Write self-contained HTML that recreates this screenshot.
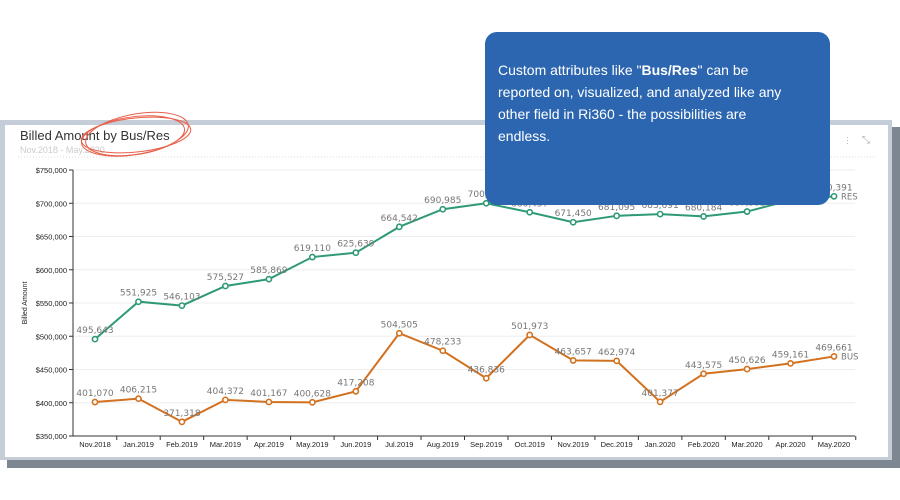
<!DOCTYPE html>
<html><head><meta charset="utf-8"><style>
body{margin:0;width:900px;height:500px;background:#fff;overflow:hidden;font-family:"Liberation Sans",sans-serif;position:relative}
.abs{position:absolute}
</style></head><body>
<div class="abs" style="left:7px;top:127px;width:893px;height:341px;background:#7d8791"></div>
<div class="abs" style="left:0;top:120px;width:892px;height:340px;background:#c5ced8"></div>
<div class="abs" style="left:5px;top:125px;width:883px;height:332px;background:#fff"></div>
<div class="abs" style="left:20px;top:128px;font-size:13px;color:#333">Billed Amount by Bus/Res</div>
<div class="abs" style="left:20px;top:145px;font-size:9px;color:#ccc">Nov.2018 - May.2020</div>
<div class="abs" style="left:846px;top:136px;font-size:9px;color:#aaa;line-height:3px">·<br>·<br>·</div>
<div class="abs" style="left:862px;top:135px;font-size:10px;color:#aaa">⤡</div>
<svg class="abs" style="left:0;top:0" width="900" height="500">
<line x1="18" y1="157" x2="875" y2="157" stroke="#ddd" stroke-dasharray="1,2"/>
<g id="grid"></g><g id="axes"></g><g id="series"></g>
<text transform="translate(27,303) rotate(-90)" text-anchor="middle" font-size="7" fill="#222">Billed Amount</text>
<g fill="none" stroke="#e8604a" stroke-width="1">
<ellipse cx="133" cy="136" rx="52" ry="19" transform="rotate(-8 133 136)"/>
<ellipse cx="136" cy="135" rx="55" ry="17" transform="rotate(-6 136 135)"/>
<ellipse cx="137" cy="134" rx="52" ry="20" transform="rotate(-10 137 134)"/>
</g>
</svg>
<div class="abs" style="left:485px;top:32px;width:345px;height:173px;background:#2d66b0;border-radius:12px"></div>
<div class="abs" style="left:498px;top:59px;width:300px;font-size:14px;line-height:22px;color:#fff">Custom attributes like "<b>Bus/Res</b>" can be reported on, visualized, and analyzed like any other field in Ri360 - the possibilities are endless.</div>
<script>
const categories=["Nov.2018","Jan.2019","Feb.2019","Mar.2019","Apr.2019","May.2019","Jun.2019","Jul.2019","Aug.2019","Sep.2019","Oct.2019","Nov.2019","Dec.2019","Jan.2020","Feb.2020","Mar.2020","Apr.2020","May.2020"];
const resValues=[495643,551925,546103,575527,585869,619110,625639,664542,690985,700006,686457,671450,681095,683691,680184,687532,704574,710391];
const busValues=[401070,406215,371318,404372,401167,400628,417208,504505,478233,436836,501973,463657,462974,401377,443575,450626,459161,469661];
const yTicks=[350000,400000,450000,500000,550000,600000,650000,700000,750000];
const NS="http://www.w3.org/2000/svg";
const x0=95,x1=834,yb=436,yt=170,ymin=350000,ymax=750000;
const xs=i=>x0+i*(x1-x0)/(categories.length-1);
const ys=v=>yb-(v-ymin)/(ymax-ymin)*(yb-yt);
function mk(t,a,p){const e=document.createElementNS(NS,t);for(const k in a)e.setAttribute(k,a[k]);p.appendChild(e);return e;}
const grid=document.getElementById('grid'),axes=document.getElementById('axes'),ser=document.getElementById('series');
yTicks.forEach(v=>{
 const g=mk('line',{x1:73,x2:855,y1:ys(v),y2:ys(v),stroke:'#eee'},grid);
 
 
 mk('line',{x1:69,x2:73,y1:ys(v),y2:ys(v),stroke:'#333'},axes);
 const t=mk('text',{x:67,y:ys(v)+3,'text-anchor':'end','font-size':7.5,fill:'#222'},axes);
 t.textContent='$'+v.toLocaleString('en-US');
 
 
});
mk('line',{x1:73,x2:73,y1:yt,y2:yb,stroke:'#333','stroke-width':1},axes);
mk('line',{x1:73,x2:855,y1:yb,y2:yb,stroke:'#333','stroke-width':1},axes);
const step=(x1-x0)/(categories.length-1);
categories.forEach((c,i)=>{
 mk('line',{x1:xs(i)+step/2,x2:xs(i)+step/2,y1:yb,y2:yb+4,stroke:'#333'},axes);
 const t=mk('text',{x:xs(i),y:yb+11,'text-anchor':'middle','font-size':7.5,fill:'#222'},axes);
 t.textContent=c;
 
 
});
function draw(vals,col,name,label){
 const p=mk('polyline',{points:vals.map((v,i)=>xs(i)+','+ys(v)).join(' '),fill:'none',stroke:col,'stroke-width':2},ser);
 
 
 vals.forEach((v,i)=>{
  const c=mk('circle',{cx:xs(i),cy:ys(v),r:2.6,fill:'#fff',stroke:col,'stroke-width':1.6},ser);
  
  
  const t=mk('text',{x:xs(i),y:ys(v)-6,'text-anchor':'middle','font-size':9,fill:'#777','font-family':'DejaVu Sans, sans-serif'},ser);
  t.textContent=v.toLocaleString('en-US');
  
  
 });
 const l=mk('text',{x:xs(vals.length-1)+7,y:ys(vals[vals.length-1])+3,'font-size':8.5,fill:'#777','font-family':'DejaVu Sans, sans-serif'},ser);
 l.textContent=label;
 
 
}
draw(resValues,'#2e9a74','res','RES');
draw(busValues,'#d2711f','bus','BUS');
</script>
</body></html>
